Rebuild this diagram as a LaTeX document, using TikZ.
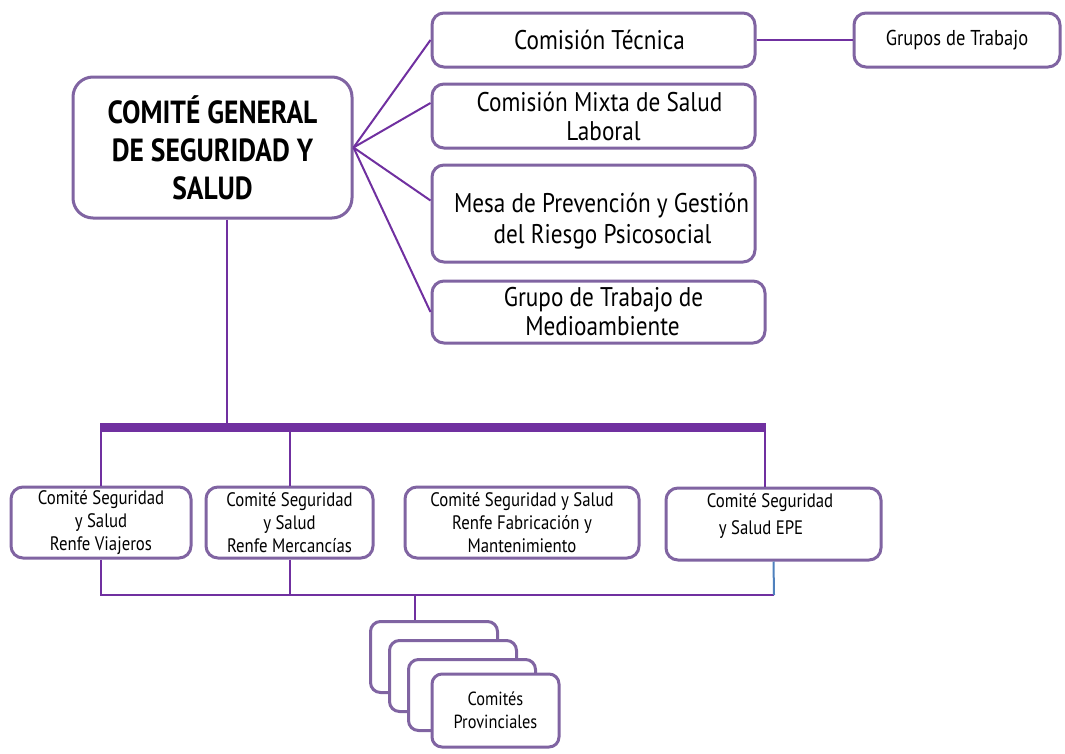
\documentclass[tikz,border=0pt]{standalone}
\usepackage{fontspec}
\setmainfont{PT Sans}[FakeStretch=0.86]
\usetikzlibrary{calc}
\definecolor{BoxPurple}{HTML}{8064A2}
\definecolor{LinePurple}{HTML}{7030A0}
\definecolor{LineBlue}{HTML}{4F81BD}
\tikzset{
  box/.style={draw=BoxPurple, line width=3pt, rounded corners=12pt, fill=white, align=center, inner sep=0pt},
  link/.style={draw=LinePurple, line width=2pt}
}

\begin{document}
\begin{tikzpicture}[x=1pt,y=-1pt]
            \useasboundingbox (0,0) rectangle (1065,753);

            \node[box, rounded corners=20pt, minimum width=279, minimum height=141, font=\bfseries\fontsize{32}{38}\selectfont] (main) at (212.5,147.5) {COMITÉ GENERAL\\DE SEGURIDAD Y\\SALUD};

            \node[box, minimum width=323, minimum height=54, font=\fontsize{27}{29}\selectfont] (tecnica) at (593.5,40) {\hspace*{12pt}Comisión Técnica};
            \node[box, minimum width=323, minimum height=64, font=\fontsize{27}{29}\selectfont] (mixta) at (593.5,116) {\hspace*{12pt}Comisión Mixta de Salud\\\hspace*{20pt}Laboral};
            \node[box, minimum width=323, minimum height=97, font=\fontsize{27}{31}\selectfont] (mesa) at (593.5,213.5) {\rule{0pt}{34pt}\hspace*{16pt}Mesa de Prevención y Gestión\\\hspace*{18pt}del Riesgo Psicosocial};
            \node[box, minimum width=333, minimum height=62, font=\fontsize{27}{29}\selectfont] (medio) at (598.5,312) {\hspace*{10pt}Grupo de Trabajo de\\\hspace*{8pt}Medioambiente};
            \node[box, minimum width=206, minimum height=54, font=\fontsize{21.5}{23}\selectfont] (grupos) at (957,40) {Grupos de Trabajo};

            \draw[link] (main.east) -- (tecnica.west);
            \draw[link] (main.east) -- ($(mixta.west)+(0,-13)$);
            \draw[link] (main.east) -- ($(mesa.west)+(0,-13)$);
            \draw[link] (main.east) -- (medio.west);
            \draw[link] (tecnica.east) -- (grupos.west);

            \node[box, minimum width=180, minimum height=71, font=\fontsize{19.5}{23}\selectfont] (viajeros) at (101,522.5) {Comité Seguridad\\y Salud\\Renfe Viajeros};
            \node[box, minimum width=167, minimum height=71, font=\fontsize{19.5}{23}\selectfont] (mercancias) at (289.5,522.5) {Comité Seguridad\\y Salud\\Renfe Mercancías};
            \node[box, minimum width=234, minimum height=71, font=\fontsize{19.5}{23}\selectfont] (fabricacion) at (522,522.5) {Comité Seguridad y Salud\\Renfe Fabricación y\\Mantenimiento};
            \node[box, minimum width=215, minimum height=72] (epe) at (773.5,524) {};
            \node[align=center, font=\fontsize{19.5}{27}\selectfont] (epetxt) at (770,516) {Comité Seguridad\\y Salud EPE\hspace*{18pt}};

            \coordinate (hub) at (227,427.5);
            \coordinate (barL) at (101,427.5);
            \coordinate (barR) at (765,427.5);
            \draw[link] (main.south -| hub) -- (hub);
            \draw[LinePurple, line width=9pt] ($(barL)+(-1,0)$) -- ($(barR)+(1,0)$);
            \draw[link] (barL) -- (viajeros.north);
            \draw[link] (mercancias.north |- barL) -- (mercancias.north);
            \draw[link] ($(fabricacion.north)+(-9,0)$ |- barL) -- ($(fabricacion.north)+(-9,0)$);
            \draw[link] (barR) -- (barR |- epe.north);

            \coordinate (busL) at (101,595);
            \coordinate (busR) at (774,595);
            \coordinate (busM) at (415,595);
            \draw[link] (viajeros.south) -- (busL) -- (busR);
            \draw[link] (mercancias.south) -- (mercancias.south |- busL);
            \draw[link] ($(fabricacion.south)+(-9,0)$) -- ($(fabricacion.south)+(-9,0)$ |- busL);
            \draw[LineBlue, line width=2pt] (epe.south) -- (busR);

            \node[box, rounded corners=10pt, minimum width=127, minimum height=71] (prov1) at (434,657) {};
            \node[box, rounded corners=10pt, minimum width=127, minimum height=71] (prov2) at (453,676) {};
            \node[box, rounded corners=10pt, minimum width=127, minimum height=71] (prov3) at (472,695) {};
            \node[box, rounded corners=10pt, minimum width=127, minimum height=73, font=\fontsize{19}{23}\selectfont] (prov4) at (495.5,710.5) {Comités\\Provinciales};
            \draw[link] (busM) -- (busM |- prov1.north);
\end{tikzpicture}
\end{document}
